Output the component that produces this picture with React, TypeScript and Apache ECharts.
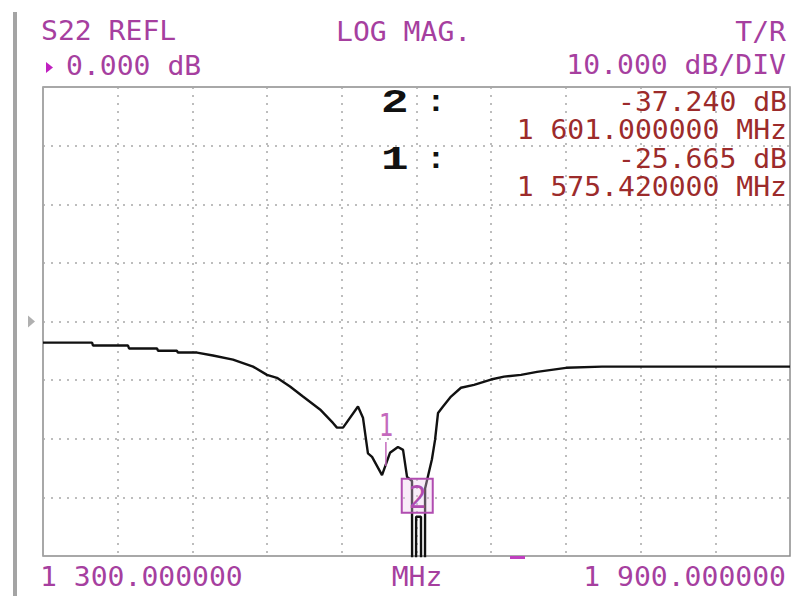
import React, { useEffect, useRef } from "react";
import * as echarts from "echarts";

// ---- trace data ----
const freqMHz = [
  1300, 1339.4, 1340.2, 1368.3, 1369.1, 1391.6, 1392.4, 1407.6, 1408.4, 1423.7,
  1436.5, 1452.6, 1468.7, 1479.9, 1487.9, 1498.4, 1508.8, 1522.5, 1532.9, 1536.1,
  1541.0, 1553.0, 1557.0, 1561.0, 1564.3, 1572.3, 1578.7, 1585.1, 1589.2, 1592.4,
  1596.4, 1596.5, 1599.6, 1599.7, 1603.6, 1603.7, 1606.8, 1606.9, 1612.4, 1614.9,
  1617.3, 1621.3, 1627.7, 1635.7, 1646.2, 1659.8, 1670.3, 1683.9, 1696.8, 1720.1,
  1749.0, 1900,
];
const magDb = [
  -3.6, -3.6, -4.1, -4.1, -4.6, -4.6, -5.0, -5.0, -5.3, -5.3,
  -5.8, -6.5, -7.7, -9.1, -9.6, -11.1, -12.8, -15.0, -17.3, -18.1,
  -18.1, -14.5, -16.4, -22.5, -23.1, -26.2, -22.4, -21.4, -21.9, -26.5,
  -27.2, -48, -48, -33.3, -33.3, -48, -48, -28.5, -23.5, -20.2,
  -15.6, -14.5, -12.8, -11.3, -10.8, -9.9, -9.4, -9.1, -8.6, -7.9,
  -7.7, -7.7,
];

// ---- markers ----
const markerIds = ["1", "2"];
const markerFreqMHz = [1575.42, 1601.0];
const markerMagDb = [-25.665, -37.24];
const activeMarker = 1;

// ---- scale / labels ----
const headerLabels = ["S22 REFL", "LOG MAG.", "T/R"];
const refLevelDb = 0;
const dbPerDiv = 10;
const divsY = 8;
const divsX = 10;
const startMHz = 1300;
const stopMHz = 1900;
const unitLabel = "MHz";

const MAGENTA = "#a63f9f";
const DARKRED = "#9c2b2b";
const MONO = '"DejaVu Sans Mono"';

function fmtFreq(f: number): string {
  const s = f.toFixed(6);
  const [i, d] = s.split(".");
  return i.slice(0, i.length - 3) + " " + i.slice(-3) + "." + d;
}

function txt(
  text: string,
  x: number,
  y: number,
  fill: string,
  font: string,
  align: string = "left",
  sx: number = 1.08
) {
  return {
    type: "text",
    x,
    y,
    scaleX: sx,
    z: 100,
    silent: true,
    style: {
      text,
      fill,
      font,
      textAlign: align,
      textVerticalAlign: "middle",
      align,
      verticalAlign: "middle",
    },
  };
}

export default function App() {
  const ref = useRef<HTMLDivElement>(null);

  useEffect(() => {
    if (!ref.current) return;
    const chart = echarts.init(ref.current, null, { renderer: "svg" });
    const yMax = refLevelDb + (divsY / 2) * dbPerDiv;
    const yMin = refLevelDb - (divsY / 2) * dbPerDiv;
    const split = {
      show: true,
      lineStyle: { color: "#a8a8a8", type: [2, 6], width: 1.5 },
    };
    chart.setOption({
      animation: false,
      backgroundColor: "#ffffff",
      grid: {
        left: 43,
        top: 87,
        width: 747,
        height: 469,
        show: true,
        borderColor: "#8c8c8c",
        borderWidth: 1.5,
        backgroundColor: "transparent",
      },
      xAxis: {
        type: "value",
        min: startMHz,
        max: stopMHz,
        interval: (stopMHz - startMHz) / divsX,
        axisLine: { show: false },
        axisTick: { show: false },
        axisLabel: { show: false },
        splitLine: split,
      },
      yAxis: {
        type: "value",
        min: yMin,
        max: yMax,
        interval: dbPerDiv,
        axisLine: { show: false },
        axisTick: { show: false },
        axisLabel: { show: false },
        splitLine: split,
      },
      series: [
        {
          type: "line",
          data: freqMHz.map((f, i) => [f, magDb[i]]),
          showSymbol: false,
          clip: true,
          lineStyle: { color: "#111111", width: 2.4 },
          z: 5,
        },
      ],
    });

    const g: any[] = [];
    // window border bar & reference indicator
    g.push({ type: "rect", shape: { x: 13, y: 12, width: 4, height: 584 }, style: { fill: "#a4a4a4" }, z: 90 });
    const refPix = chart.convertToPixel({ gridIndex: 0 }, [startMHz, refLevelDb]) as number[];
    g.push({
      type: "polygon",
      shape: { points: [[28, refPix[1] - 6], [35, refPix[1]], [28, refPix[1] + 6]] },
      style: { fill: "#b0b0b0" },
      z: 90,
    });

    const f26 = `26px ${MONO}`;
    // header
    g.push(txt(headerLabels[0], 41, 31, MAGENTA, f26));
    g.push(txt(headerLabels[1], 336, 32, MAGENTA, f26));
    g.push(txt(headerLabels[2], 786, 32, MAGENTA, f26, "right"));
    g.push({
      type: "polygon",
      shape: { points: [[46, 62], [53, 67.5], [46, 73]] },
      style: { fill: "#c020c0" },
      z: 100,
    });
    g.push(txt(`${refLevelDb.toFixed(3)} dB`, 66, 66, MAGENTA, f26));
    g.push(txt(`${dbPerDiv.toFixed(3)} dB/DIV`, 786, 65, MAGENTA, f26, "right"));

    // marker readouts (active marker first)
    const order = [1, 0];
    const rowY = [[102, 130], [159, 187]];
    order.forEach((mi, r) => {
      g.push(txt(markerIds[mi], 381, rowY[r][0] + 1, "#111111", `bold 34px "Liberation Mono"`, "left", 1.35));
      g.push(txt(":", 426, rowY[r][0] + 1, "#111111", `bold 30px "Liberation Mono"`, "left", 1.1));
      g.push(txt(`${markerMagDb[mi].toFixed(3)} dB`, 787, rowY[r][0], DARKRED, f26, "right"));
      g.push(txt(`${fmtFreq(markerFreqMHz[mi])} ${unitLabel}`, 787, rowY[r][1], DARKRED, f26, "right"));
    });

    // markers on trace
    markerIds.forEach((id, mi) => {
      const p = chart.convertToPixel({ gridIndex: 0 }, [markerFreqMHz[mi], markerMagDb[mi]]) as number[];
      if (mi === activeMarker) {
        const cy = p[1] - 44;
        g.push({
          type: "rect",
          shape: { x: p[0] - 16, y: cy - 17, width: 31, height: 34 },
          style: { fill: "rgba(235,200,235,0.35)", stroke: "#b04cb0", lineWidth: 2 },
          z: 95,
        });
        g.push(txt(id, p[0], cy + 1, "#b04cb0", `32px ${MONO}`, "center", 0.95));
      } else {
        g.push(txt(id, p[0], p[1] - 47, "#c46abd", `32px ${MONO}`, "center", 0.75));
        g.push({
          type: "line",
          shape: { x1: p[0], y1: p[1] - 30, x2: p[0], y2: p[1] - 6 },
          style: { stroke: "#c46abd", lineWidth: 1.5 },
          z: 95,
        });
      }
    });
    // small stimulus indicator below the axis
    g.push({ type: "rect", shape: { x: 510, y: 556, width: 15, height: 3 }, style: { fill: "#c040c0" }, z: 95 });

    // footer
    g.push(txt(fmtFreq(startMHz), 40, 577, MAGENTA, f26));
    g.push(txt(unitLabel, 417, 577, MAGENTA, f26, "center"));
    g.push(txt(fmtFreq(stopMHz), 786, 577, MAGENTA, f26, "right"));

    chart.setOption({ graphic: g });

    return () => chart.dispose();
  }, []);

  return (
    <div
      ref={ref}
      style={{ position: "absolute", left: 0, top: 0, width: 794, height: 596, background: "#fff" }}
    />
  );
}
